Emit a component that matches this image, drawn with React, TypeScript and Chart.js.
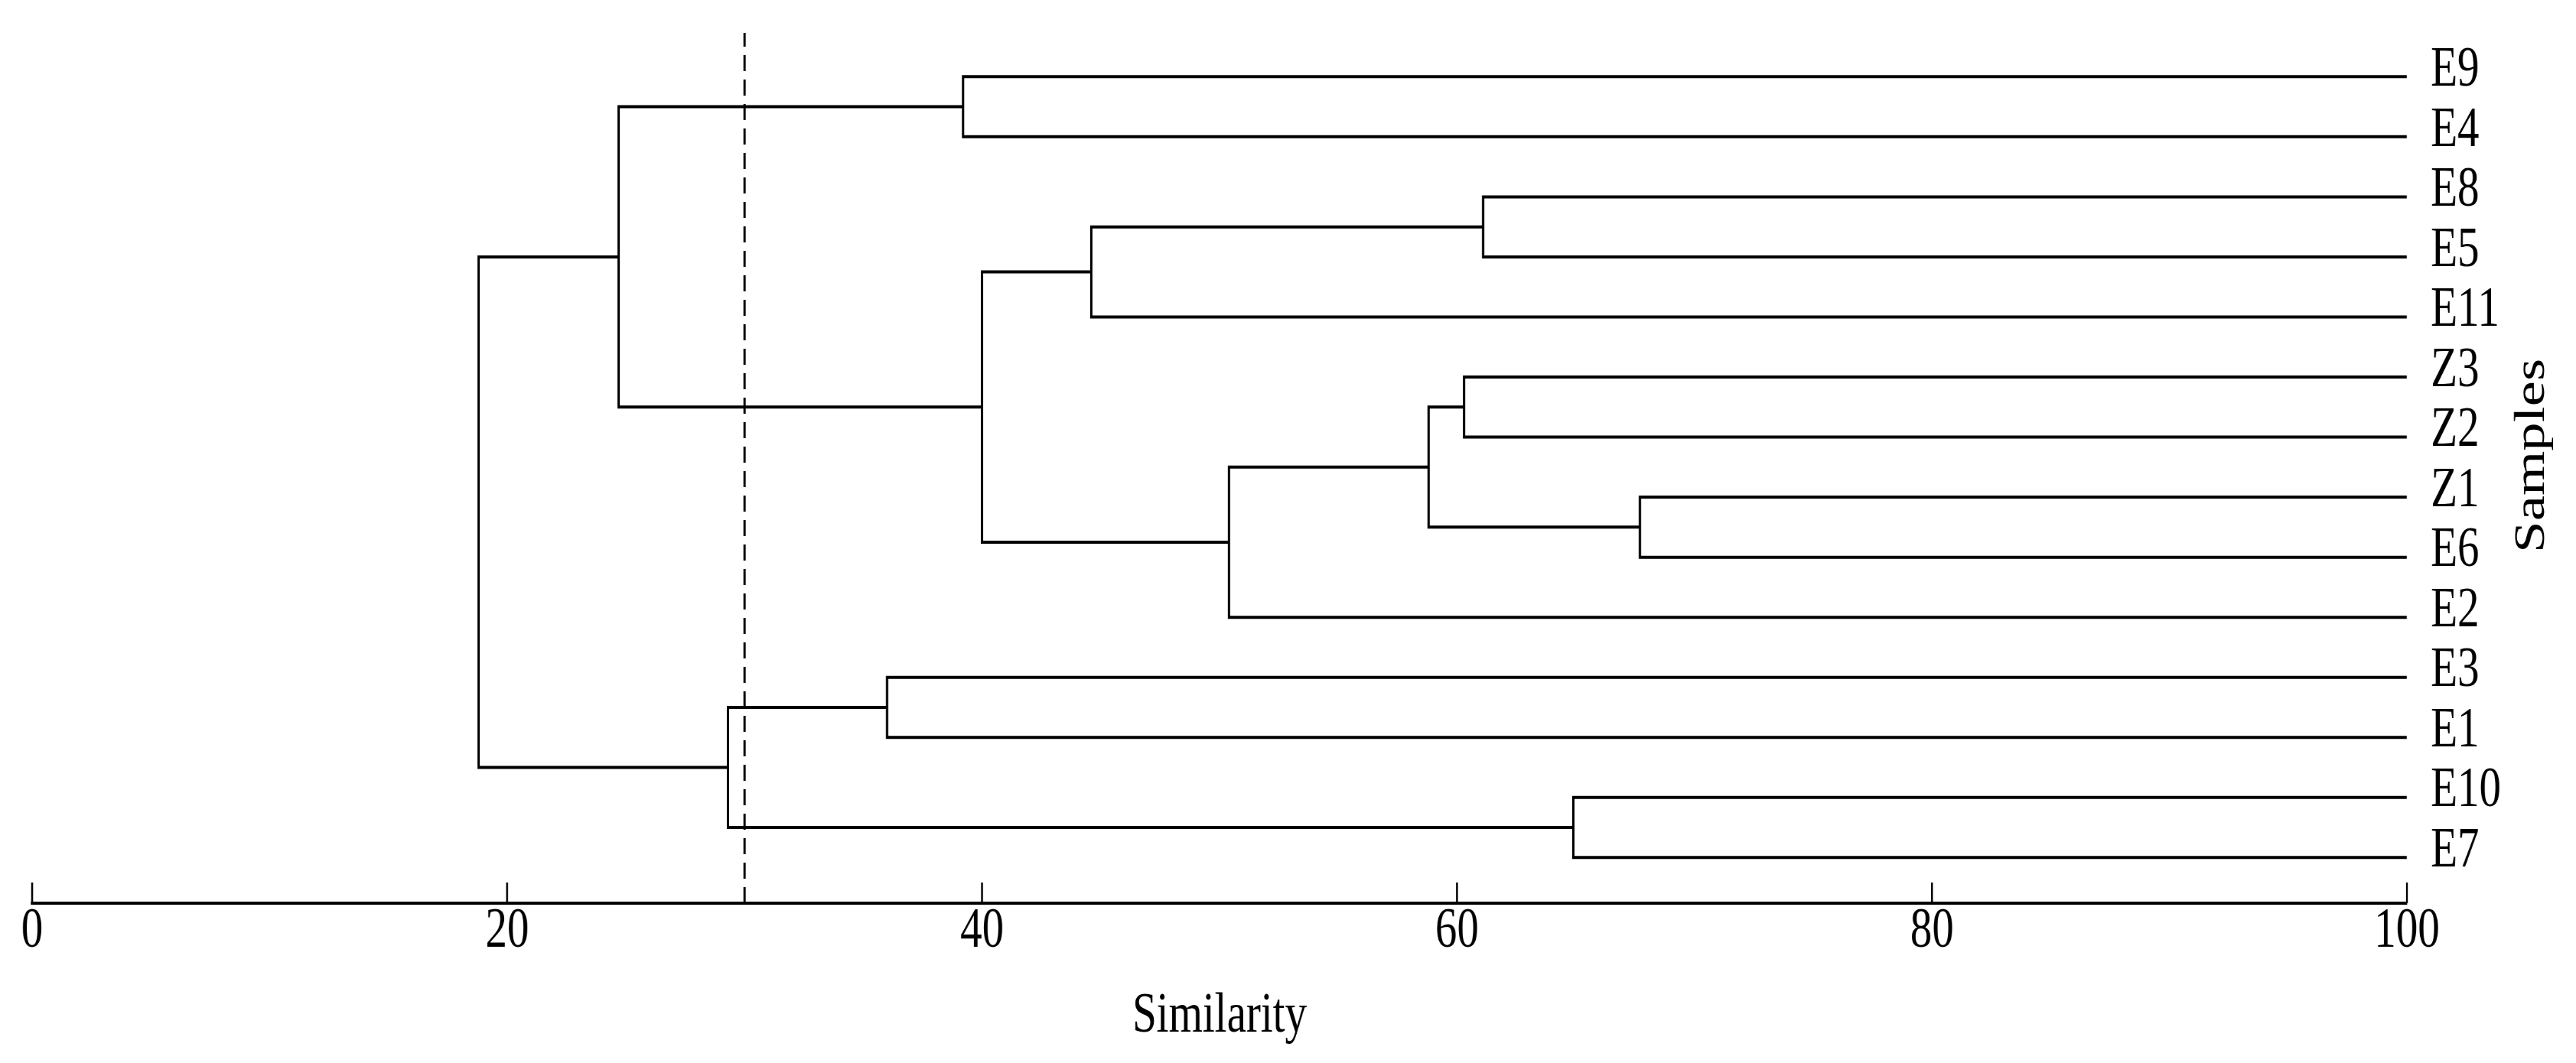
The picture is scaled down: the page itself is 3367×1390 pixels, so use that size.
import React, { useEffect, useRef } from 'react';
import { Chart, registerables } from 'chart.js';

Chart.register(...registerables);

// ---- data ----
const leaves = ['E9', 'E4', 'E8', 'E5', 'E11', 'Z3', 'Z2', 'Z1', 'E6', 'E2', 'E3', 'E1', 'E10', 'E7'];
// children: 0..13 = leaves, 14+k = merge node k
const mergeLeft = [0, 2, 15, 5, 7, 17, 19, 16, 14, 10, 12, 23, 22];
const mergeRight = [1, 3, 4, 6, 8, 18, 9, 20, 21, 11, 13, 24, 25];
const mergeSimilarity = [39.2, 61.1, 44.6, 60.3, 67.7, 58.8, 50.4, 40.0, 24.7, 36.0, 64.9, 29.3, 18.8];
const cutoffSimilarity = 30;
const xTickValues = [0, 20, 40, 60, 80, 100];
const leafSimilarity = 100;

const FONT = "'Liberation Serif', 'Times New Roman', serif";
const SX = 0.76; // horizontal condensing of the whole figure
const W = Math.round(3367 / SX);
const H = 1390;

export default function App() {
  const ref = useRef<HTMLCanvasElement | null>(null);

  useEffect(() => {
    const canvas = ref.current;
    if (!canvas) return;

    const nodeX: number[] = leaves.map(() => leafSimilarity);
    const nodeY: number[] = leaves.map((_, i) => i);
    mergeSimilarity.forEach((h, k) => {
      const a = mergeLeft[k];
      const b = mergeRight[k];
      nodeX.push(h);
      nodeY.push((nodeY[a] + nodeY[b]) / 2);
    });

    const yMin = -0.73;
    const yMax = 13.76;

    const lineStyle = {
      showLine: true,
      pointRadius: 0,
      pointHoverRadius: 0,
      borderColor: '#000',
      backgroundColor: '#000',
      borderWidth: 4,
      borderCapStyle: 'butt' as const,
      borderJoinStyle: 'miter' as const,
      fill: false,
      tension: 0,
    };

    const datasets: any[] = mergeSimilarity.map((h, k) => {
      const a = mergeLeft[k];
      const b = mergeRight[k];
      return {
        ...lineStyle,
        label: 'node' + k,
        data: [
          { x: nodeX[a], y: nodeY[a] },
          { x: h, y: nodeY[a] },
          { x: h, y: nodeY[b] },
          { x: nodeX[b], y: nodeY[b] },
        ],
      };
    });

    datasets.push({
      ...lineStyle,
      label: 'cutoff',
      borderWidth: 3.9,
      borderDash: [21, 11],
      data: [
        { x: cutoffSimilarity, y: yMax },
        { x: cutoffSimilarity, y: yMin },
      ],
    });

    const decor = {
      id: 'decor',
      afterDraw(chart: any) {
        const { ctx, chartArea } = chart;
        const xs = chart.scales.x;
        ctx.save();
        ctx.strokeStyle = '#000';
        ctx.lineWidth = 3.3;
        xs.ticks.forEach((t: any) => {
          const px = xs.getPixelForValue(t.value);
          ctx.beginPath();
          ctx.moveTo(px, chartArea.bottom);
          ctx.lineTo(px, chartArea.bottom - 27);
          ctx.stroke();
        });
        ctx.translate(chartArea.right + 215.5, (chartArea.top + chartArea.bottom) / 2 - 16);
        ctx.rotate(-Math.PI / 2);
        ctx.fillStyle = '#000';
        ctx.font = `75px ${FONT}`;
        ctx.textAlign = 'center';
        ctx.textBaseline = 'middle';
        ctx.fillText('Samples', 0, 0);
        ctx.restore();
      },
    };

    const chart = new Chart(canvas, {
      type: 'scatter',
      data: { datasets },
      plugins: [decor],
      options: {
        animation: false,
        responsive: false,
        devicePixelRatio: 1,
        layout: { padding: { top: 43, left: 55.3, right: 0, bottom: 0 } },
        plugins: {
          legend: { display: false },
          tooltip: { enabled: false },
        },
        scales: {
          x: {
            type: 'linear',
            min: 0,
            max: 100,
            afterBuildTicks: (scale: any) => {
              scale.ticks = xTickValues.map((v) => ({ value: v }));
            },
            afterFit: (scale: any) => {
              scale.height = 209;
            },
            grid: { display: false, drawTicks: false },
            border: { display: true, color: '#000', width: 4 },
            ticks: {
              color: '#000',
              padding: 0,
              font: { family: FONT, size: 75, lineHeight: 1 },
              maxRotation: 0,
              autoSkip: false,
            },
            title: {
              display: true,
              text: 'Similarity',
              color: '#000',
              font: { family: FONT, size: 75, lineHeight: 1 },
              padding: { top: 0, bottom: 23.5 },
            },
          },
          y: {
            type: 'linear',
            position: 'right',
            reverse: true,
            min: yMin,
            max: yMax,
            afterBuildTicks: (scale: any) => {
              scale.ticks = leaves.map((_, i) => ({ value: i }));
            },
            afterFit: (scale: any) => {
              scale.width = W - 4139.5;
              scale.paddingTop = 0;
              scale.paddingBottom = 0;
            },
            grid: { display: false, drawTicks: false },
            border: { display: false },
            ticks: {
              color: '#000',
              padding: 41,
              labelOffset: -8,
              autoSkip: false,
              font: { family: FONT, size: 75, lineHeight: 1 },
              callback: (v: any) => leaves[Math.round(Number(v))] ?? '',
            },
          },
        },
      },
    } as any);

    return () => chart.destroy();
  }, []);

  return (
    <div
      style={{
        position: 'fixed',
        left: 0,
        top: 0,
        width: 3367,
        height: H,
        overflow: 'hidden',
        background: '#fff',
      }}
    >
      <div
        style={{
          width: W,
          height: H,
          transform: `scaleX(${SX})`,
          transformOrigin: '0 0',
        }}
      >
        <canvas ref={ref} width={W} height={H} style={{ display: 'block', width: W, height: H }} />
      </div>
    </div>
  );
}
